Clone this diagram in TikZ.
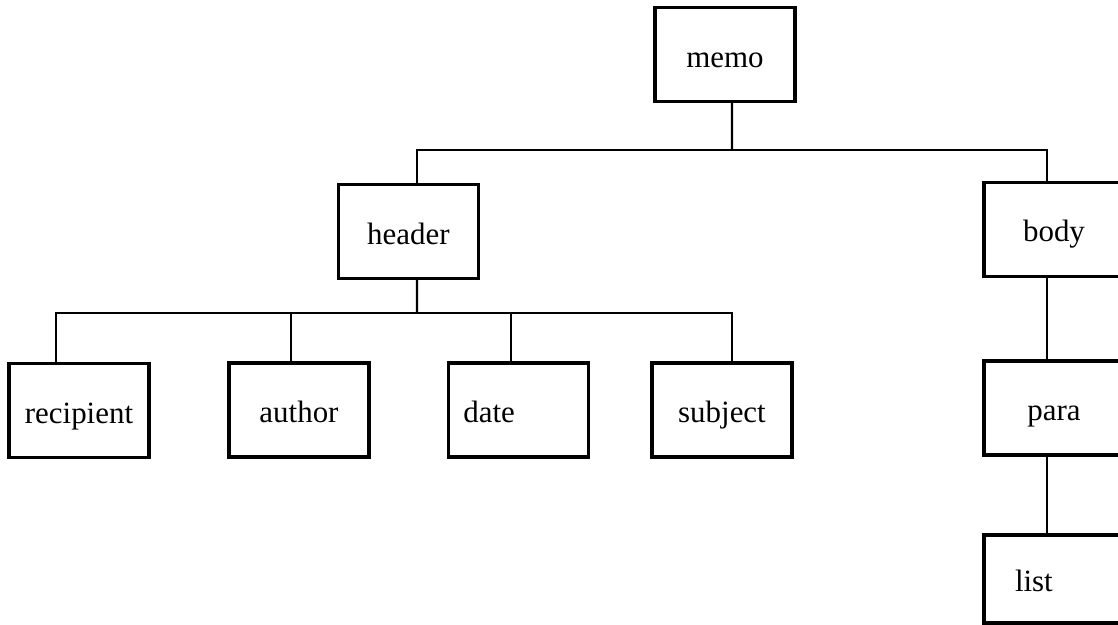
\documentclass[tikz,border=0pt]{standalone}
\usepackage{fontspec}
\setmainfont{Liberation Serif}
\usepackage{tikz}
\usetikzlibrary{positioning,calc}

\begin{document}
\begin{tikzpicture}[
    % GLOBAL CFG
    font=\fontsize{22}{26}\selectfont,
    % Styles
    elem/.style={% For the element boxes
        rectangle,
        draw,
        line width=2.2pt,
        minimum width=3.5cm,
        minimum height=2.35cm,
        text height=18pt,
        text depth=0pt,
        },
    link/.style={% For the tree lines
        line width=1.6pt,
        },
    ]

    % Page size, the right column runs off the page
    \useasboundingbox (0,0) rectangle (27.95,-15.625);
    \clip (0,0) rectangle (27.95,-15.625);

    % Draw the root
    \node [elem] (memo) at (18.125,-1.36) {memo};

    % Second level
    \node [elem] (header) at (10.21,-5.79) {header};
    \node [elem] (body) at (26.35,-5.73) {body};

    % Children of header
    \node [elem] (recipient) at (1.975,-10.27) {recipient};
    \node [elem] (author) at (7.475,-10.25) {author};
    \node [elem, align=left, inner xsep=0.375cm, text width=2.75cm] (date) at (12.96,-10.25) {date}; % name on the left
    \node [elem] (subject) at (18.05,-10.25) {subject};

    % Children of body
    \node [elem] (para) at (26.35,-10.2) {para};
    \node [elem, minimum height=2.2cm, align=left, inner xsep=0.775cm, text width=1.95cm] (list) at (26.35,-14.475) {list};

    % Hubs where the lines split
    \coordinate (hub1) at (18.3,-3.75);
    \coordinate (hub2) at (10.425,-7.825);

    % Start connecting all.
    \draw [link] ([xshift=1.75mm]memo.south) -- (hub1);
    \draw [link] ([xshift=2.15mm]header.north) |- (hub1) -| ([xshift=-1.75mm]body.north);

    \draw [link] ([xshift=2.15mm]header.south) -- (hub2);
    \draw [link] ([xshift=-5.75mm]recipient.north) |- (hub2) -| ([xshift=2.5mm]subject.north);
    \draw [link] ([xshift=-2mm]author.north) |- (hub2);
    \draw [link] ([xshift=-1.85mm]date.north) |- (hub2);

    \draw [link] ([xshift=-1.75mm]body.south) -- ([xshift=-1.75mm]para.north);
    \draw [link] ([xshift=-1.75mm]para.south) -- ([xshift=-1.75mm]list.north);

\end{tikzpicture}
\end{document}
